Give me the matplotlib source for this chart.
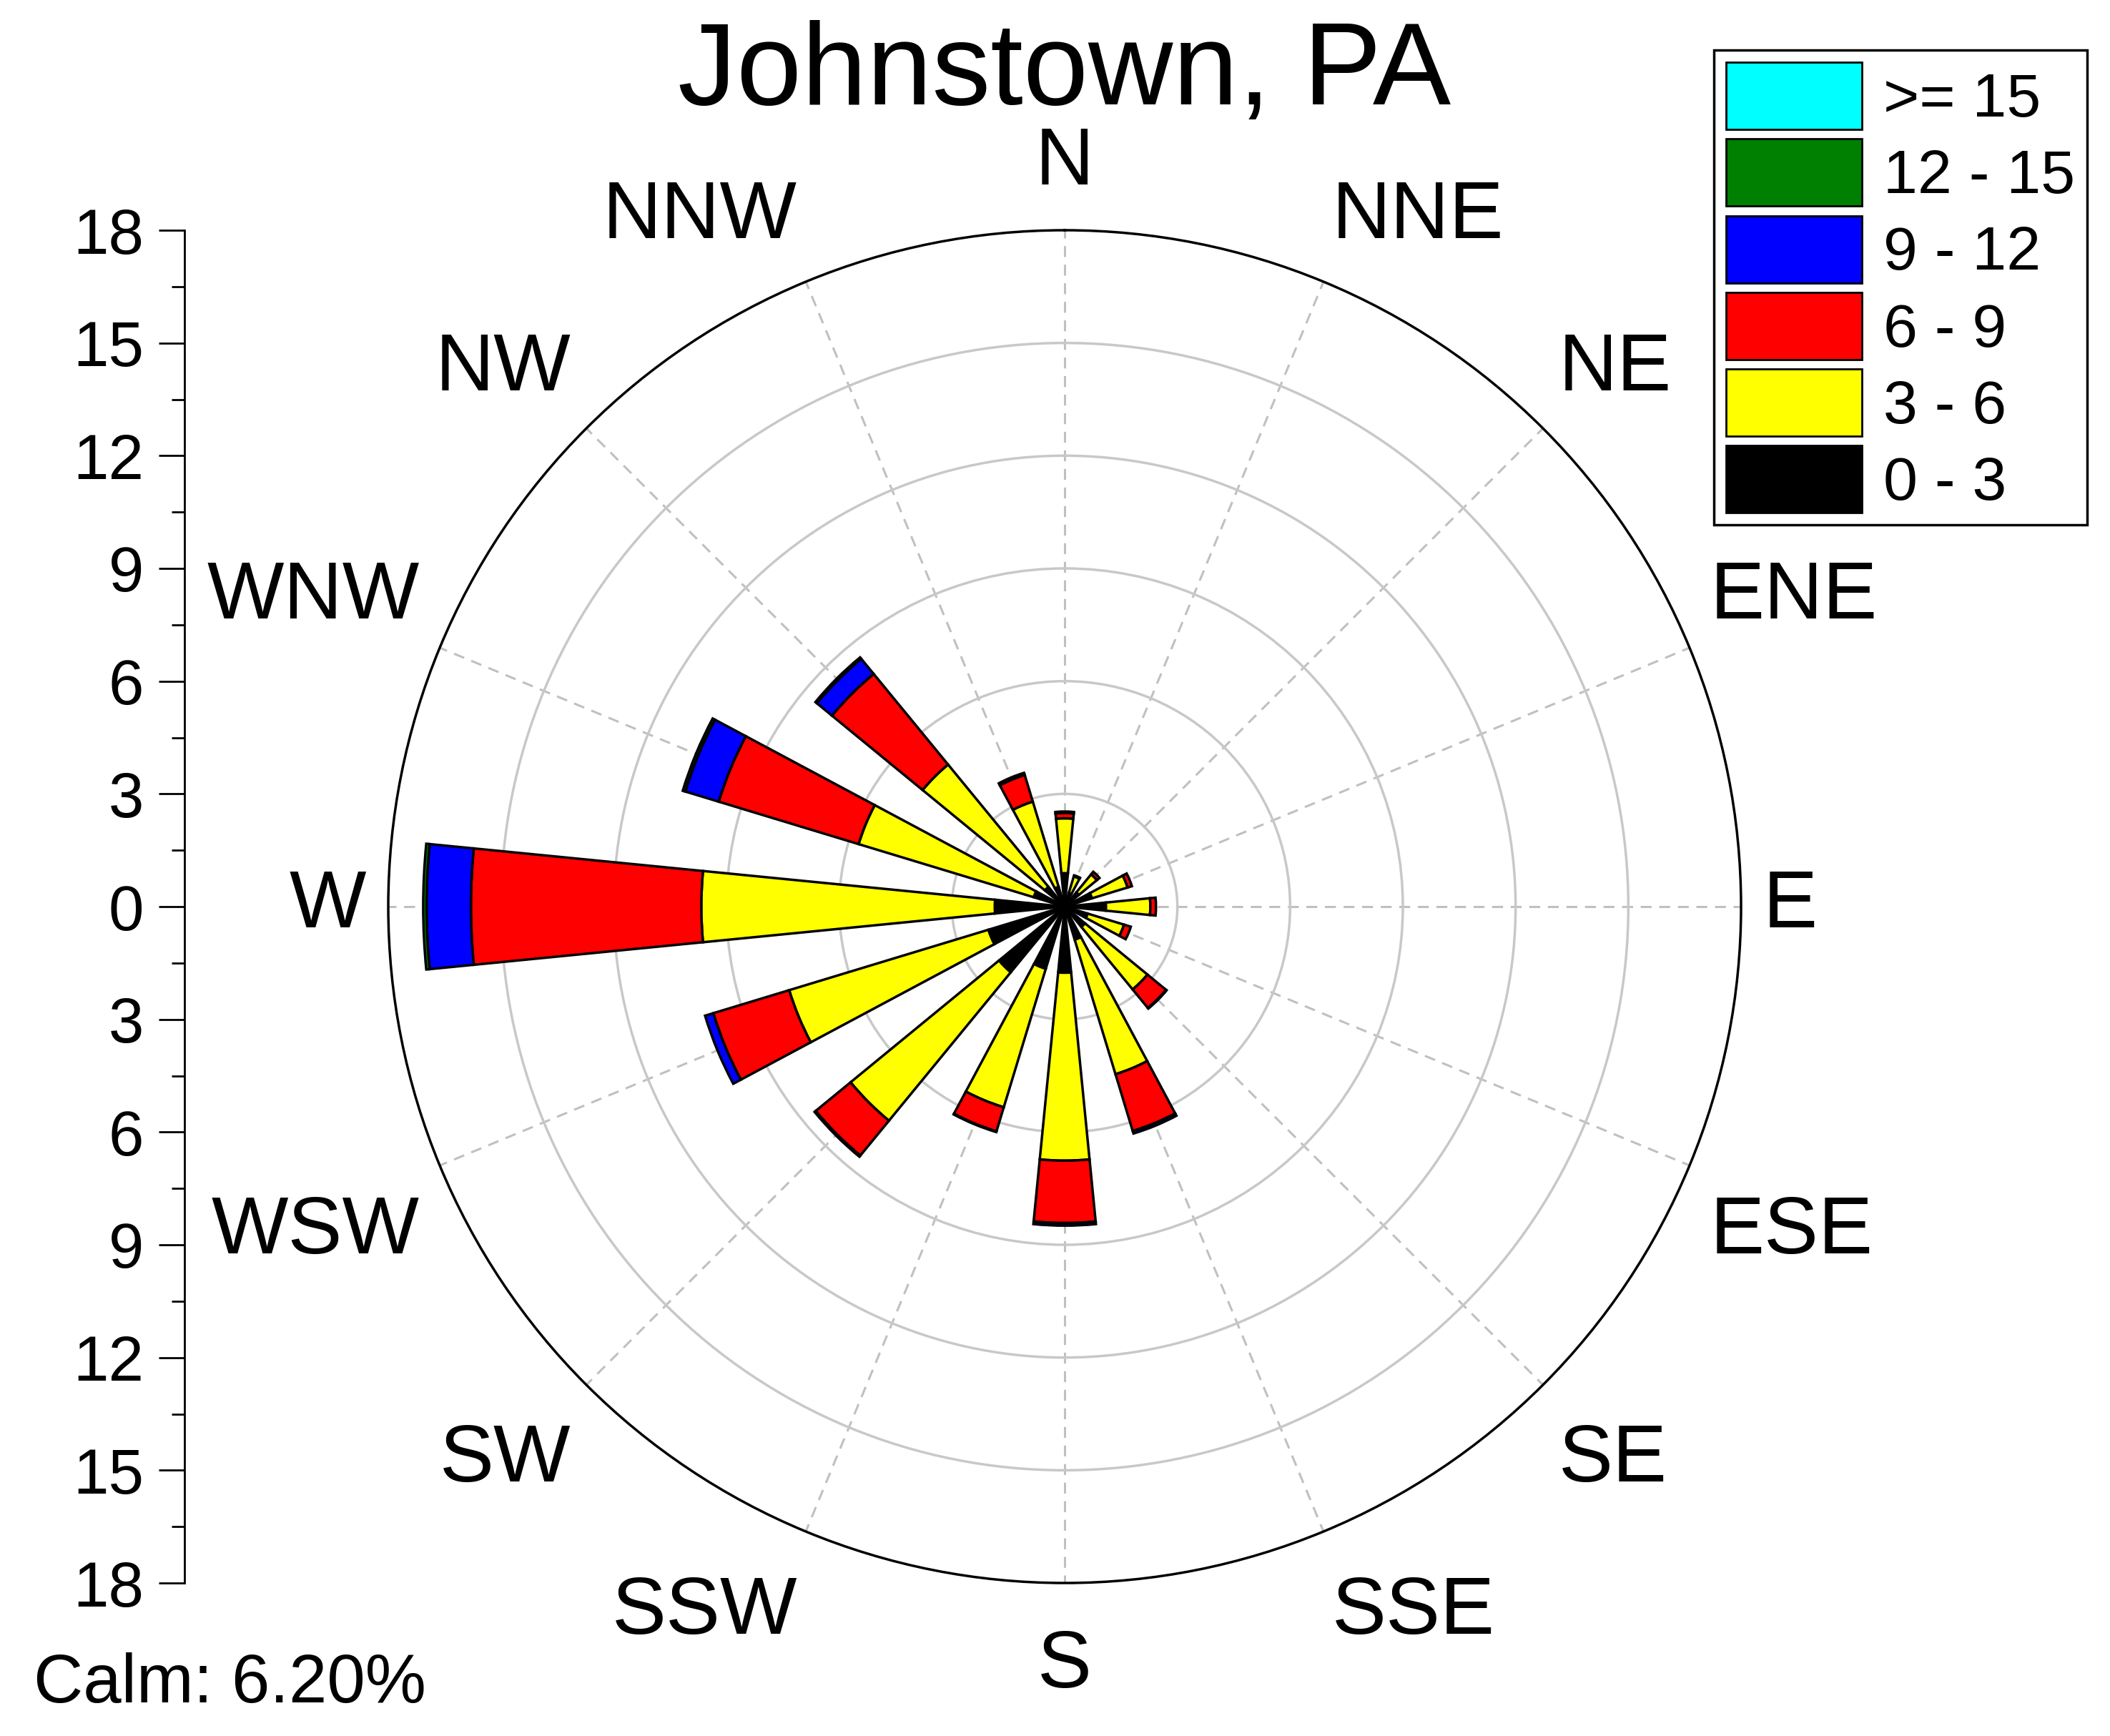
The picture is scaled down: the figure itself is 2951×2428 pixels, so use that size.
import numpy as np
import matplotlib
matplotlib.use("Agg")
import matplotlib.pyplot as plt
from matplotlib.patches import Patch

plt.rcParams['font.family'] = ['Liberation Sans', 'DejaVu Sans']

# wind directions (compass order, clockwise from north)
directions = ['N', 'NNE', 'NE', 'ENE', 'E', 'ESE', 'SE', 'SSE',
              'S', 'SSW', 'SW', 'WSW', 'W', 'WNW', 'NW', 'NNW']

# frequency (%) per speed class
spd_0_3   = [0.89, 0.38, 0.49, 0.76, 1.10, 0.64, 0.70, 0.92,
             1.76, 1.73, 2.26, 2.12, 1.86, 0.86, 0.68, 0.55]
spd_3_6   = [1.46, 0.46, 0.62, 0.99, 1.18, 1.01, 2.15, 3.74,
             5.00, 3.85, 5.11, 5.54, 7.81, 4.87, 4.21, 2.37]
spd_6_9   = [0.14, 0.03, 0.09, 0.12, 0.15, 0.19, 0.64, 1.58,
             1.66, 0.67, 1.20, 2.11, 6.13, 3.89, 3.12, 0.74]
spd_9_12  = [0.04, 0.00, 0.00, 0.00, 0.00, 0.00, 0.02, 0.07,
             0.07, 0.02, 0.04, 0.23, 1.18, 0.93, 0.52, 0.06]
spd_12_15 = [0.00, 0.00, 0.00, 0.00, 0.00, 0.00, 0.00, 0.00,
             0.00, 0.00, 0.00, 0.00, 0.09, 0.07, 0.05, 0.00]
spd_15up  = [0.0] * 16

bin_labels = ['0 - 3', '3 - 6', '6 - 9', '9 - 12', '12 - 15', '>= 15']
bin_colors = ['#000000', '#ffff00', '#ff0000', '#0000ff', '#008000', '#00ffff']
calm = 6.20

series = [spd_0_3, spd_3_6, spd_6_9, spd_9_12, spd_12_15, spd_15up]

W, H = 2951, 2428
fig = plt.figure(figsize=(W / 100, H / 100), dpi=100)

# polar axes: centre (1489, 1268) px, radius 946 px
cx, cy, R = 1489, 1268, 946
ax = fig.add_axes([(cx - R) / W, (H - cy - R) / H, 2 * R / W, 2 * R / H],
                  projection='polar')
ax.set_theta_zero_location('N')
ax.set_theta_direction(-1)
ax.set_ylim(0, 18)

theta = np.deg2rad(np.arange(16) * 22.5)
width = np.deg2rad(11.25)

bottom = np.zeros(16)
for vals, col in zip(series, bin_colors):
    vals = np.array(vals)
    m = vals > 0
    if m.any():
        ax.bar(theta[m], vals[m], width=width, bottom=bottom[m], color=col,
               edgecolor='black', linewidth=2.5, zorder=3)
    bottom += vals

# grids
ax.set_yticks([3, 6, 9, 12, 15])
ax.set_yticklabels([])
ax.yaxis.grid(True, color='#c8c8c8', linestyle='-', linewidth=2.5)
ax.set_xticks(theta)
ax.set_xticklabels([])
ax.set_xticks(theta + width, minor=True)
ax.xaxis.grid(True, color='#c0c0c0', linestyle=(0, (5, 3.5)), linewidth=2.2)
ax.tick_params(axis='x', which='major', direction='in', length=16, width=2, color='black')
ax.tick_params(axis='x', which='minor', direction='in', length=10, width=2, color='black')
ax.spines['polar'].set_linewidth(2.5)
ax.set_axisbelow(True)

# direction labels outside the rim
for ang, lab in zip(theta, directions):
    s, c = np.sin(ang), np.cos(ang)
    ha = 'left' if s > 0.1 else ('right' if s < -0.1 else 'center')
    if c > 0.1:
        va = 'baseline'
    elif c < -0.1:
        va = 'top'
    else:
        va = 'center'
    dx = 22.4 * s if abs(s) > 0.1 else 0
    dy = (19 + 27 * abs(c)) * np.sign(c) if abs(c) > 0.1 else 0
    ax.annotate(lab, xy=(ang, 18), xytext=(dx, dy), textcoords='offset points',
                ha=ha, va=va, fontsize=82, annotation_clip=False)

# left radial scale
pos = ax.get_position()
ax2 = fig.add_axes([258 / W, pos.y0, 0.001, pos.height])
ax2.patch.set_visible(False)
for sp in ['right', 'top', 'bottom']:
    ax2.spines[sp].set_visible(False)
ax2.spines['left'].set_linewidth(2)
ax2.set_ylim(-18, 18)
ticks = np.arange(-18, 19, 3)
ax2.set_yticks(ticks)
ax2.set_yticklabels([str(abs(t)) for t in ticks], fontsize=64)
ax2.set_yticks(np.arange(-16.5, 17, 3), minor=True)
ax2.tick_params(axis='y', which='major', length=26, width=2, pad=15)
ax2.tick_params(axis='y', which='minor', length=13, width=2)
ax2.set_xticks([])

# title and calm text
fig.text(cx / W, 1 - 146 / H, 'Johnstown, PA', ha='center', va='baseline', fontsize=118)
fig.text(47 / W, 1 - 2381 / H, 'Calm: %.2f%%' % calm, ha='left', va='baseline', fontsize=69)

# legend (highest class on top)
handles = [Patch(facecolor=c, edgecolor='black', linewidth=2) for c in bin_colors][::-1]
leg = fig.legend(handles, bin_labels[::-1], loc='upper right',
                 bbox_to_anchor=(2919 / W, 1 - 70 / H), fontsize=62,
                 handlelength=2.2, handleheight=1.3, labelspacing=0.155,
                 handletextpad=0.35, borderpad=0.2, borderaxespad=0,
                 fancybox=False, framealpha=1, edgecolor='black')
leg.get_frame().set_linewidth(2.5)

fig.savefig('out.png', dpi=100, facecolor='white')
